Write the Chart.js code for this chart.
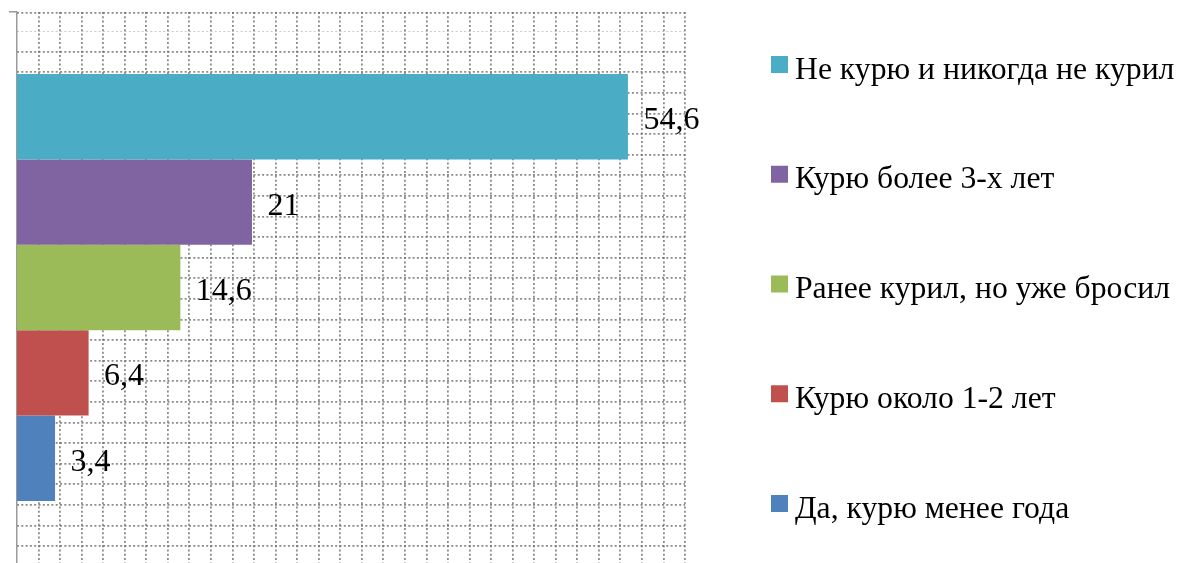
<!DOCTYPE html>
<html>
<head>
<meta charset="utf-8">
<script src="https://cdn.jsdelivr.net/npm/chart.js@4.4.1/dist/chart.umd.min.js"></script>
<style>
  html, body { margin: 0; padding: 0; background: #ffffff; overflow: hidden; }
  #wrap { width: 1179px; height: 563px; }
</style>
</head>
<body>
<div id="wrap"><canvas id="c" width="1179" height="563"></canvas></div>
<script>
// ---- data ----
const categories = [''];
const seriesLabels = [
  'Не курю и никогда не курил',
  'Курю более 3-х лет',
  'Ранее курил, но уже бросил',
  'Курю около 1-2 лет',
  'Да, курю менее года'
];
const seriesValues = [54.6, 21, 14.6, 6.4, 3.4];
const seriesColors = ['#4BACC6', '#8064A2', '#9BBB59', '#C0504D', '#4F81BD'];

const FONT = '"Liberation Serif", "Times New Roman", serif';

const datasets = seriesLabels.map((lab, i) => ({
  label: lab,
  data: [seriesValues[i]],
  backgroundColor: seriesColors[i],
  borderWidth: 0,
  xAxisID: 'x',
  yAxisID: 'y',
  categoryPercentage: 0.775,
  barPercentage: 1.0
}));

const valueLabels = {
  id: 'valueLabels',
  afterDatasetsDraw(chart, args, opts) {
    const ctx = chart.ctx;
    ctx.save();
    ctx.font = opts.font;
    ctx.fillStyle = '#000000';
    ctx.textAlign = 'left';
    ctx.textBaseline = 'alphabetic';
    chart.data.datasets.forEach((ds, i) => {
      const meta = chart.getDatasetMeta(i);
      meta.data.forEach((el, j) => {
        const v = ds.data[j];
        const txt = String(v).replace('.', ',');
        ctx.fillText(txt, el.x + opts.dx, el.y + opts.dy);
      });
    });
    ctx.restore();
  }
};

const sideLegend = {
  id: 'sideLegend',
  afterDraw(chart, args, opts) {
    const ctx = chart.ctx;
    ctx.save();
    ctx.font = opts.font;
    ctx.textAlign = 'left';
    ctx.textBaseline = 'alphabetic';
    chart.data.datasets.forEach((ds, i) => {
      const cy = opts.firstY + i * opts.spacing;
      ctx.fillStyle = ds.backgroundColor;
      ctx.fillRect(opts.x, cy - opts.box / 2, opts.box, opts.box);
      ctx.fillStyle = '#000000';
      ctx.fillText(ds.label, opts.x + opts.box + opts.gap, cy + opts.textDy);
    });
    ctx.restore();
  }
};

const GRID_COLOR = 'rgba(110,110,110,0.8)';

new Chart(document.getElementById('c'), {
  type: 'bar',
  data: { labels: categories, datasets },
  plugins: [valueLabels, sideLegend],
  options: {
    indexAxis: 'y',
    responsive: false,
    animation: false,
    events: [],
    layout: { padding: { left: 9, top: 12, right: 494, bottom: 0 } },
    scales: {
      y: {
        type: 'category', position: 'left',
        ticks: { display: false },
        grid: {
          drawOnChartArea: false, drawTicks: true, tickLength: 8, lineWidth: 1.5, offset: true,
          color: (ctx) => (ctx.index === 0 ? '#9a9a9a' : 'rgba(0,0,0,0)')
        },
        border: { display: true, color: '#9a9a9a', width: 1.5 }
      },
      x: { type: 'linear', display: false, min: 0, max: 59.7 },
      xg: {
        type: 'linear', position: 'top', min: 0, max: 31,
        ticks: { display: false, stepSize: 1 },
        grid: {
          drawTicks: false,
          lineWidth: 1.8,
          color: (ctx) => (ctx.tick && ctx.tick.value === 0) ? 'rgba(0,0,0,0)' : GRID_COLOR
        },
        border: { display: false, dash: [2, 2.3] }
      },
      yg: {
        type: 'linear', position: 'right', min: 0.19, max: 25.91,
        ticks: { display: false, stepSize: 1, includeBounds: false },
        afterBuildTicks: (s) => { s.ticks.push({ value: s.max }); },
        grid: {
          drawTicks: false,
          lineWidth: (ctx) => (ctx.tick && ctx.tick.value > 25.5) ? 1 : 1.8,
          color: (ctx) => (ctx.tick && ctx.tick.value > 25.5) ? 'rgba(150,150,150,0.5)' : GRID_COLOR
        },
        border: { display: false, dash: [2, 2.3] }
      }
    },
    plugins: {
      legend: { display: false },
      tooltip: { enabled: false },
      title: { display: false },
      valueLabels: { font: '32px ' + FONT, dx: 15.5, dy: 12.5 },
      sideLegend: { font: '31.7px ' + FONT, x: 771, box: 17, gap: 7, firstY: 64.5, spacing: 109.75, textDy: 14 }
    }
  }
});
</script>
</body>
</html>
